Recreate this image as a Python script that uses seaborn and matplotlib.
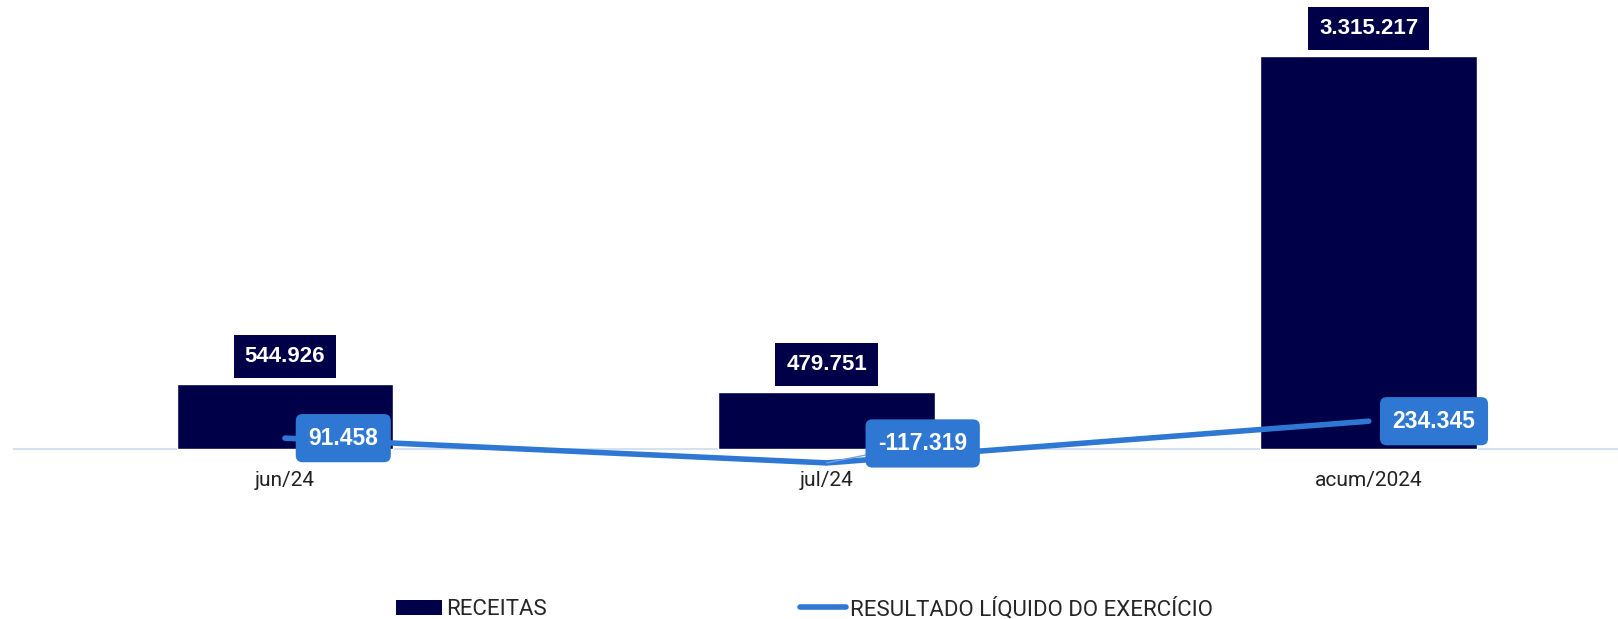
import numpy as np
import pandas as pd
import matplotlib.pyplot as plt
import seaborn as sns
from matplotlib.patches import Patch
from matplotlib.lines import Line2D

# dados do gráfico
periodos = ['jun/24', 'jul/24', 'acum/2024']
receitas = [544926, 479751, 3315217]
resultado = [91458, -117319, 234345]
rotulos_receitas = ['544.926', '479.751', '3.315.217']
rotulos_resultado = ['91.458', '-117.319', '234.345']

navy = '#000048'
azul = '#2E78D3'

sns.set_theme(style='white')
plt.rcParams['font.family'] = ['Liberation Sans', 'DejaVu Sans']

df = pd.DataFrame({'periodo': periodos, 'receitas': receitas, 'resultado': resultado})

fig = plt.figure(figsize=(16.18, 6.19), dpi=100)
ax = fig.add_axes([14 / 1618, 0, 1 - 14 / 1618, 1])

sns.barplot(data=df, x='periodo', y='receitas', color=navy, width=0.4,
            saturation=1, ax=ax, zorder=2)
sns.lineplot(data=df, x='periodo', y='resultado', color=azul, linewidth=4,
             ax=ax, zorder=3, sort=False)

ax.set_xlim(-0.5, 2.46)
ax.set_ylim(-1434000, 3787000)
for s in ['top', 'left', 'right']:
    ax.spines[s].set_visible(False)
# linha base em y = 0
ax.spines['bottom'].set_position(('data', 0))
ax.spines['bottom'].set_color('#D5E1EE')
ax.spines['bottom'].set_linewidth(1.5)
ax.spines['bottom'].set_zorder(1)
ax.set_yticks([])
ax.set_xlabel('')
ax.set_ylabel('')
ax.tick_params(axis='x', length=0, pad=16, labelsize=15, labelcolor='#222222')
for t in ax.get_xticklabels():
    t.set_fontfamily(['Roboto', 'DejaVu Sans'])

# rótulos das barras
for i, (v, lab) in enumerate(zip(receitas, rotulos_receitas)):
    ax.annotate(lab, (i, v), xytext=(0, 20), textcoords='offset points',
                ha='center', va='center', color='white', fontsize=16,
                fontweight='bold', zorder=5,
                bbox=dict(boxstyle='square,pad=0.5', fc=navy, ec='none'))

# rótulos da linha
offsets = [(42, 0), (69, 14), (47, 0)]
for i, (v, lab) in enumerate(zip(resultado, rotulos_resultado)):
    arrow = None
    if i == 1:
        arrow = dict(arrowstyle='-', color='#6FA3E3', lw=1, shrinkA=0, shrinkB=0)
    ax.annotate(lab, (i, v), xytext=offsets[i], textcoords='offset points',
                ha='center', va='center', color='white', fontsize=16.5,
                fontweight='bold', zorder=6, arrowprops=arrow,
                bbox=dict(boxstyle='round,pad=0.55,rounding_size=0.3', fc=azul, ec='none'))

handles = [Patch(facecolor=navy, edgecolor='none'),
           Line2D([], [], color=azul, linewidth=4, solid_capstyle='round')]
fig.legend(handles, ['RECEITAS', 'RESULTADO LÍQUIDO DO EXERCÍCIO'],
           loc='center left', bbox_to_anchor=(396 / 1618, 10 / 619), ncol=2,
           frameon=False, borderpad=0, borderaxespad=0, handlelength=2.07,
           handleheight=0.7, handletextpad=0.18, columnspacing=11.4,
           prop={'family': ['Roboto', 'DejaVu Sans'], 'size': 16})

fig.savefig('out.png', dpi=100)
